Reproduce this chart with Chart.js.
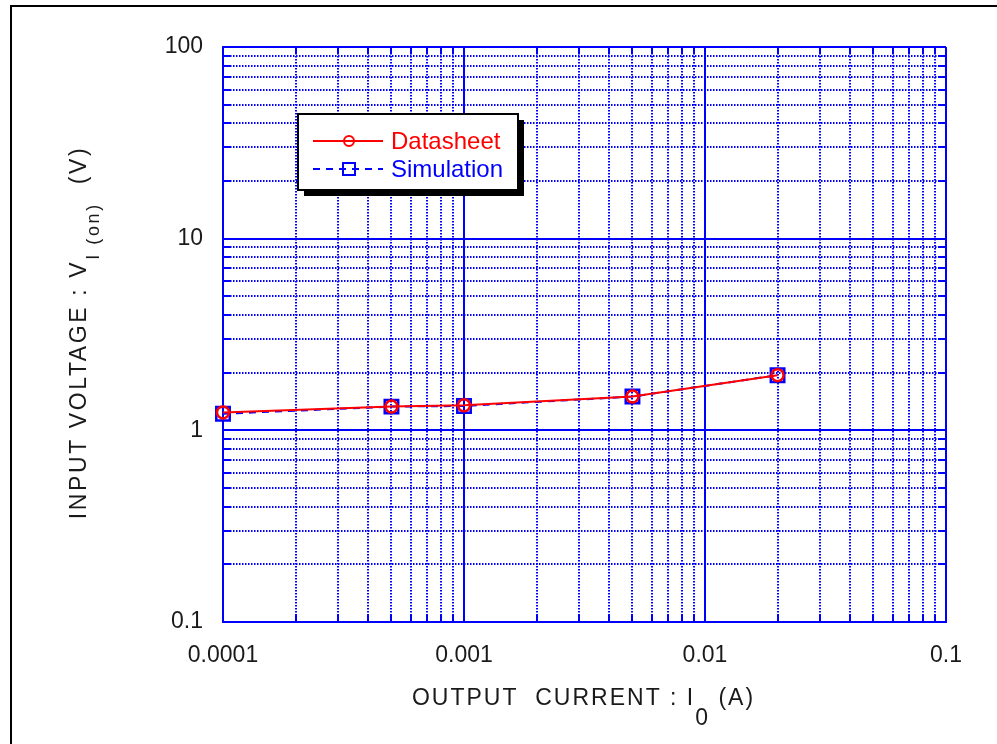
<!DOCTYPE html>
<html>
<head>
<meta charset="utf-8">
<script src="https://cdn.jsdelivr.net/npm/chart.js@4.4.0/dist/chart.umd.min.js"></script>
<style>
  html, body { margin: 0; padding: 0; background: #fff; overflow: hidden; }
  #wrap { position: relative; width: 997px; height: 744px; }
  #frame { position: absolute; left: 10px; top: 5px; width: 1200px; height: 1000px;
           border-left: 2px solid #000; border-top: 2px solid #000; }
  canvas { position: absolute; left: 0; top: 0; }
</style>
</head>
<body>
<div id="wrap">
  <div id="frame"></div>
  <canvas id="chart" width="997" height="744"></canvas>
</div>
<script>
// data
var currentA    = [0.0001, 0.0005, 0.001, 0.005, 0.02];
var datasheetV  = [1.24, 1.33, 1.35, 1.50, 1.94];
var simulationV = [1.22, 1.33, 1.34, 1.50, 1.94];

var seriesNames = ['Datasheet', 'Simulation'];

var xTickValues = [0.0001, 0.001, 0.01, 0.1];
var xTickLabels = ['0.0001', '0.001', '0.01', '0.1'];
var yTickValues = [0.1, 1, 10, 100];
var yTickLabels = ['0.1', '1', '10', '100'];

// title pieces: main text, subscript, rest
var xTitle = ['OUTPUT  CURRENT : I', '0', ' (A)'];
var yTitle = ['INPUT VOLTAGE : V', 'I (on)', '  (V)'];

var BLUE = '#0000ff';
var RED = '#ff0000';
var FONT = '"Liberation Sans", Arial, sans-serif';

function isDecade(v) {
  var l = Math.log10(v);
  return Math.abs(l - Math.round(l)) < 1e-6;
}

// 1..9 ticks for each decade
function decadeTicks(values) {
  return function (scale) {
    var lo = Math.round(Math.log10(values[0]));
    var hi = Math.round(Math.log10(values[values.length - 1]));
    var t = [];
    for (var e = lo; e < hi; e++) {
      for (var m = 1; m < 10; m++) t.push({ value: m * Math.pow(10, e) });
    }
    t.push({ value: Math.pow(10, hi) });
    scale.ticks = t;
  };
}

function tickLabel(values, labels) {
  return function (v) {
    for (var i = 0; i < values.length; i++) {
      if (Math.abs(Math.log10(v) - Math.log10(values[i])) < 1e-6) return labels[i];
    }
    return '';
  };
}

function axis(values, labels) {
  return {
    type: 'logarithmic',
    min: values[0],
    max: values[values.length - 1],
    afterBuildTicks: decadeTicks(values),
    grid: {
      color: BLUE,
      lineWidth: 2,
      drawTicks: false
    },
    border: {
      display: true, color: BLUE, width: 2,
      dash: function (c) { return c.tick && !isDecade(c.tick.value) ? [1.5, 1.5] : []; }
    },
    ticks: {
      callback: tickLabel(values, labels),
      autoSkip: false, maxRotation: 0,
      color: '#1a1a1a', font: { family: FONT, size: 23 }, padding: 20
    }
  };
}

function drawTitle(ctx, pieces, cx, cy, angle, subSize, subDrop, spacing) {
  ctx.save();
  ctx.translate(cx, cy);
  ctx.rotate(angle);
  ctx.letterSpacing = spacing + 'px';
  ctx.textBaseline = 'alphabetic';
  ctx.textAlign = 'left';
  ctx.fillStyle = '#1a1a1a';
  var main = '23px ' + FONT, sub = subSize + 'px ' + FONT;
  ctx.font = main; var w0 = ctx.measureText(pieces[0]).width;
  ctx.font = sub;  var w1 = ctx.measureText(pieces[1]).width;
  ctx.font = main; var w2 = ctx.measureText(pieces[2]).width;
  var x = -(w0 + w1 + w2) / 2;
  ctx.font = main; ctx.fillText(pieces[0], x, 0); x += w0;
  ctx.font = sub;  ctx.fillText(pieces[1], x, subDrop); x += w1;
  ctx.font = main; ctx.fillText(pieces[2], x, 0);
  ctx.restore();
}

var decor = {
  id: 'decor',
  afterDraw: function (chart) {
    var ctx = chart.ctx, a = chart.chartArea;
    var xs = chart.scales.x, ys = chart.scales.y;

    // short solid ticks inside the frame
    ctx.save();
    ctx.strokeStyle = BLUE; ctx.lineWidth = 2; ctx.setLineDash([]);
    ctx.beginPath();
    xs.ticks.forEach(function (t) {
      if (isDecade(t.value)) return;
      var p = Math.round(xs.getPixelForValue(t.value));
      ctx.moveTo(p, a.bottom); ctx.lineTo(p, a.bottom - 7);
      ctx.moveTo(p, a.top); ctx.lineTo(p, a.top + 7);
    });
    ys.ticks.forEach(function (t) {
      if (isDecade(t.value)) return;
      var p = Math.round(ys.getPixelForValue(t.value));
      ctx.moveTo(a.left, p); ctx.lineTo(a.left + 8, p);
      ctx.moveTo(a.right, p); ctx.lineTo(a.right - 8, p);
    });
    ctx.stroke();
    ctx.restore();

    // legend box with shadow
    var lx = a.left + 75, ly = a.top + 67, lw = 220, lh = 76;
    ctx.save();
    ctx.fillStyle = '#000';
    ctx.fillRect(lx + 6, ly + 6, lw, lh);
    ctx.fillStyle = '#fff';
    ctx.fillRect(lx, ly, lw, lh);
    ctx.strokeStyle = '#000'; ctx.lineWidth = 2;
    ctx.strokeRect(lx, ly, lw, lh);
    chart.data.datasets.forEach(function (ds, i) {
      var ry = ly + 27 + i * 28;
      ctx.strokeStyle = ds.borderColor;
      ctx.lineWidth = 2;
      ctx.setLineDash(ds.borderDash || []);
      ctx.beginPath();
      ctx.moveTo(lx + 15, ry); ctx.lineTo(lx + 85, ry);
      ctx.stroke();
      ctx.setLineDash([]);
      var mx = lx + 51;
      ctx.beginPath();
      if (ds.pointStyle === 'rect') {
        var s = 6;
        ctx.rect(mx - s, ry - s, 2 * s, 2 * s);
      } else {
        ctx.arc(mx, ry, 5, 0, Math.PI * 2);
      }
      ctx.stroke();
      ctx.fillStyle = ds.borderColor;
      ctx.font = '24px ' + FONT;
      ctx.textBaseline = 'middle';
      ctx.fillText(ds.label, lx + 93, ry + 1);
    });
    ctx.restore();

    // axis titles with subscripts
    drawTitle(ctx, xTitle, (a.left + a.right) / 2 - 1, a.bottom + 83, 0, 23, 20, 2);
    drawTitle(ctx, yTitle, a.left - 137, (a.top + a.bottom) / 2 - 2, -Math.PI / 2, 18, 13, 2.6);
  }
};

var xAxis = axis(xTickValues, xTickLabels);
xAxis.afterFit = function (s) { s.height = 122; };
var yAxis = axis(yTickValues, yTickLabels);
yAxis.afterFit = function (s) { s.width = 223; };

new Chart(document.getElementById('chart'), {
  type: 'line',
  data: {
    datasets: [{
      label: seriesNames[0],
      data: currentA.map(function (x, i) { return { x: x, y: datasheetV[i] }; }),
      borderColor: RED, backgroundColor: 'rgba(0,0,0,0)',
      borderWidth: 2, pointStyle: 'circle', pointRadius: 6, pointBorderWidth: 2.5,
      clip: false, order: 0
    }, {
      label: seriesNames[1],
      data: currentA.map(function (x, i) { return { x: x, y: simulationV[i] }; }),
      borderColor: BLUE, backgroundColor: 'rgba(0,0,0,0)', borderDash: [7, 6],
      borderWidth: 2, pointStyle: 'rect', pointRadius: 9.5, pointBorderWidth: 2.5,
      clip: false, order: 1
    }]
  },
  options: {
    responsive: false,
    animation: false,
    events: [],
    layout: { padding: { left: 0, top: 47, right: 51, bottom: 0 } },
    scales: { x: xAxis, y: yAxis },
    plugins: { legend: { display: false }, tooltip: { enabled: false } }
  },
  plugins: [decor]
});
</script>
</body>
</html>
